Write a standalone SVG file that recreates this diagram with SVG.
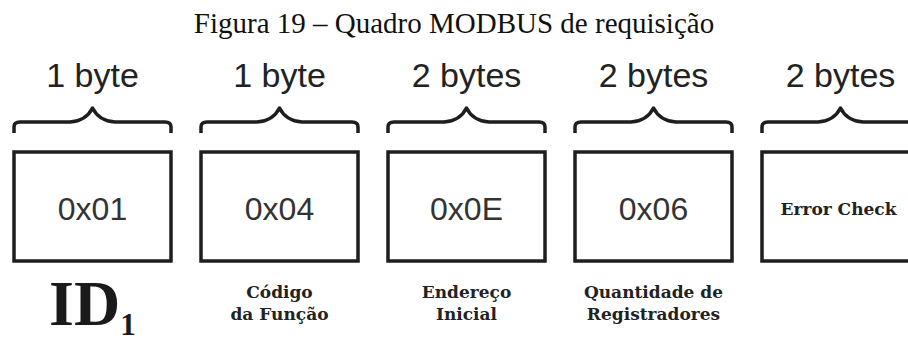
<svg xmlns="http://www.w3.org/2000/svg" width="908" height="341" viewBox="0 0 908 341">
<style>
.box{fill:#fff;stroke:#1e1e1e;stroke-width:3.5}
.brace{fill:none;stroke:#1e1e1e;stroke-width:3.5;stroke-linejoin:round}
.sz{font-family:"Liberation Sans",Arial,sans-serif;font-size:34px;fill:#222;text-anchor:middle}
.val{font-family:"Liberation Sans",Arial,sans-serif;font-size:32px;fill:#333;text-anchor:middle}
.lbl{font-family:"DejaVu Serif","Liberation Serif",serif;font-weight:bold;font-size:17px;fill:#222;text-anchor:middle}
.title{font-family:"Liberation Serif","Times New Roman",serif;font-size:29px;fill:#111;text-anchor:middle}
.id{font-family:"Liberation Serif","Times New Roman",serif;font-weight:bold;fill:#1a1a1a}
</style>
<text class="title" x="454" y="33">Figura 19 – Quadro MODBUS de requisição</text>
<g id="connectors">
<path class="brace" d="M14,133 L14,127 Q14,122 20,122 L70,122 Q86,121 92.5,108 Q99,121 115,122 L165,122 Q171,122 171,127 L171,133"/>
<path class="brace" d="M201,133 L201,127 Q201,122 207,122 L257,122 Q273,121 279.5,108 Q286,121 302,122 L352,122 Q358,122 358,127 L358,133"/>
<path class="brace" d="M388,133 L388,127 Q388,122 394,122 L444,122 Q460,121 466.5,108 Q473,121 489,122 L539,122 Q545,122 545,127 L545,133"/>
<path class="brace" d="M575,133 L575,127 Q575,122 581,122 L631,122 Q647,121 653.5,108 Q660,121 676,122 L726,122 Q732,122 732,127 L732,133"/>
<path class="brace" d="M762,133 L762,127 Q762,122 768,122 L818,122 Q834,121 840.5,108 Q847,121 863,122 L913,122 Q919,122 919,127 L919,133"/>
</g>
<g id="node1">
<text class="sz" x="92.5" y="87">1 byte</text>
<rect class="box" x="14" y="152" width="157" height="109"/>
<text class="val" x="92.5" y="220">0x01</text>
<text class="id" x="49" y="325" font-size="64">ID<tspan font-size="31" dy="10">1</tspan></text>
</g>
<g id="node2">
<text class="sz" x="279.5" y="87">1 byte</text>
<rect class="box" x="201" y="152" width="157" height="109"/>
<text class="val" x="279.5" y="220">0x04</text>
<text class="lbl" x="279.5" y="298">Código</text>
<text class="lbl" x="279.5" y="320">da Função</text>
</g>
<g id="node3">
<text class="sz" x="466.5" y="87">2 bytes</text>
<rect class="box" x="388" y="152" width="157" height="109"/>
<text class="val" x="466.5" y="220">0x0E</text>
<text class="lbl" x="466.5" y="298">Endereço</text>
<text class="lbl" x="466.5" y="320">Inicial</text>
</g>
<g id="node4">
<text class="sz" x="653.5" y="87">2 bytes</text>
<rect class="box" x="575" y="152" width="157" height="109"/>
<text class="val" x="653.5" y="220">0x06</text>
<text class="lbl" x="653.5" y="298">Quantidade de</text>
<text class="lbl" x="653.5" y="320">Registradores</text>
</g>
<g id="node5">
<text class="sz" x="840.5" y="87">2 bytes</text>
<rect class="box" x="762" y="152" width="157" height="109"/>
<text class="lbl" x="838.5" y="215">Error Check</text>
</g>
</svg>
